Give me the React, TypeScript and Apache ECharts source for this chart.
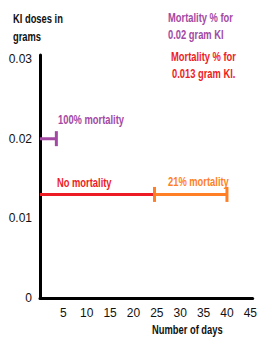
import React, { useEffect, useRef } from "react";
import * as echarts from "echarts";

const xTickValues = [5, 10, 15, 20, 25, 30, 35, 40, 45];
const yTickLabels = ["0", "0.01", "0.02", "0.03"];
const purpleDose = 0.02;
const redDose = 0.013;
const purpleDays = [0, 3.5];
const redDays = [0, 24.5];
const orangeDays = [24.5, 40];

const FONT = "'Liberation Sans', Arial, sans-serif";
const PURPLE = "#A349A4";
const RED = "#ED1C24";
const ORANGE = "#FF7F27";
const SX = 0.72;

const txt = (text: string, x: number, y: number, fill: string) => ({
  type: "text",
  x,
  y,
  scaleX: SX,
  style: { text, fontFamily: FONT, fontSize: 13, fontWeight: "bold", fill, align: "left", verticalAlign: "middle" },
});

export default function App() {
  const ref = useRef<HTMLDivElement>(null);
  useEffect(() => {
    document.body.style.margin = "0";
    const chart = echarts.init(ref.current!, null, { renderer: "svg" });
    const cap = (c: string) => ({ symbol: "rect", symbolSize: [3, 15], itemStyle: { color: c } });
    chart.setOption({
      animation: false,
      grid: { left: 40, right: 0, top: 55, bottom: 39 },
      xAxis: {
        type: "value",
        min: 0,
        max: 45.5,
        interval: 5,
        splitLine: { show: false },
        axisTick: { show: false },
        axisLine: { show: true, lineStyle: { color: "#000", width: 3 } },
        axisLabel: {
          color: "#111",
          fontFamily: FONT,
          fontSize: 12,
          margin: 9,
          formatter: (v: number) => (xTickValues.includes(Math.round(v * 100) / 100) ? String(v) : ""),
        },
      },
      yAxis: {
        type: "value",
        min: 0,
        max: 0.0305,
        interval: 0.01,
        splitLine: { show: false },
        axisTick: { show: false },
        axisLine: { show: true, lineStyle: { color: "#000", width: 3 } },
        axisLabel: {
          color: "#111",
          fontFamily: FONT,
          fontSize: 12,
          margin: 8,
          formatter: (v: number) => {
            const i = Math.round(v * 100);
            return Math.abs(v * 100 - i) < 1e-6 && yTickLabels[i] ? yTickLabels[i] : "";
          },
        },
      },
      series: [
        {
          type: "line",
          lineStyle: { color: PURPLE, width: 3 },
          itemStyle: { color: PURPLE },
          data: [
            { value: [purpleDays[0], purpleDose], symbol: "none" },
            { value: [purpleDays[1], purpleDose], ...cap(PURPLE) },
          ],
        },
        {
          type: "line",
          symbol: "none",
          lineStyle: { color: RED, width: 3 },
          data: [
            [redDays[0], redDose],
            [redDays[1], redDose],
          ],
        },
        {
          type: "line",
          lineStyle: { color: ORANGE, width: 3 },
          itemStyle: { color: ORANGE },
          data: [
            { value: [orangeDays[0], redDose], ...cap(ORANGE) },
            { value: [orangeDays[1], redDose], ...cap(ORANGE) },
          ],
        },
      ],
      graphic: [
        txt("KI doses in", 13, 18, "#111"),
        txt("grams", 13, 36, "#111"),
        txt("Mortality % for", 168, 17, PURPLE),
        txt("0.02 gram KI", 168, 34, PURPLE),
        txt("Mortality % for", 171, 56, RED),
        txt("0.013 gram KI.", 172, 73, RED),
        txt("100% mortality", 58, 119, PURPLE),
        txt("No mortality", 57, 182, RED),
        txt("21% mortality", 168, 181, ORANGE),
        txt("Number of days", 152, 329, "#111"),
      ],
    });
    return () => chart.dispose();
  }, []);
  return <div ref={ref} style={{ width: 260, height: 337 }} />;
}
